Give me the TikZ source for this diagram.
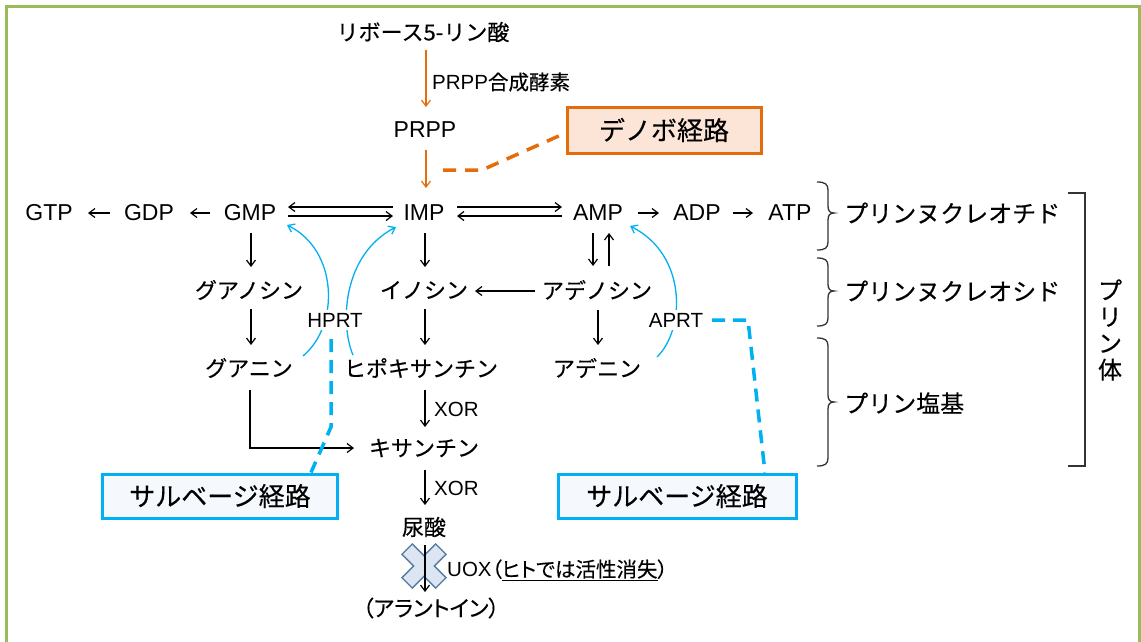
\documentclass[tikz,border=0pt]{standalone}
\usepackage{fontspec}
\setmainfont{Liberation Sans}
\newfontfamily\jp[FakeBold=0.3]{Noto Sans CJK JP}
\newfontfamily\jpp[RawFeature=+palt,FakeBold=0.3]{Noto Sans CJK JP}
\usetikzlibrary{arrows.meta,calc}
\definecolor{orangeC}{HTML}{E46C0A}
\definecolor{orangeF}{HTML}{FCE4D6}
\definecolor{cyanC}{HTML}{00B0F0}
\definecolor{cyanF}{HTML}{F5F8FC}
\definecolor{frameG}{HTML}{9BBB59}
\definecolor{xFill}{HTML}{DCE6F2}
\definecolor{xLine}{HTML}{557AA3}
\definecolor{brcC}{HTML}{333333}
\newcommand\myBrace[3]{%
\draw[brc] (817,#1) .. controls (825,#1) and (828,#1+2) .. (828,#1+8) -- (828,#2-7) .. controls (828,#2-2) and (830,#2) .. (834,#2) .. controls (830,#2) and (828,#2+2) .. (828,#2+7) -- (828,#3-8) .. controls (828,#3-2) and (825,#3) .. (817,#3);}
\tikzset{
 lat/.style={font=\fontsize{23}{27}\selectfont, inner sep=1pt},
 jpn/.style={font=\jp\fontsize{22}{26}\selectfont, inner sep=1pt},
 sm/.style={font=\fontsize{20.5}{24}\selectfont, inner sep=1pt},
 rlab/.style={font=\jp\fontsize{24}{26.5}\selectfont, inner sep=1pt},
 arr/.style={draw=black, line width=1.2pt, -{Straight Barb[length=6pt,width=9pt]}},
 oarr/.style={draw=orangeC, line width=1.2pt, -{Straight Barb[length=6pt,width=9pt]}},
 barr/.style={draw=cyanC, line width=1.3pt, -{Straight Barb[length=6pt,width=9pt]}},
 odash/.style={draw=orangeC, line width=3.5pt, dash pattern=on 13pt off 9pt},
 bdash/.style={draw=cyanC, line width=3.5pt, dash pattern=on 13pt off 8pt},
 boxO/.style={draw=orangeC, line width=3pt, fill=orangeF, minimum width=194pt, minimum height=46pt, inner sep=0pt, font=\jp\fontsize{26}{30}\selectfont},
 boxB/.style={draw=cyanC, line width=3pt, fill=cyanF, minimum height=44pt, inner sep=0pt, font=\jp\fontsize{26}{30}\selectfont},
 brc/.style={draw=brcC, line width=1.3pt},
 xbar/.style={draw=xLine, line width=3pt, fill=xFill},
}
\begin{document}
\begin{tikzpicture}[x=1pt,y=-1pt]
\useasboundingbox (0,0) rectangle (1141,641);
% frame
\draw[frameG, line width=3pt] (6,645) -- (6,6) -- (1139,6) -- (1139,645);

% nodes
\node[jpn] (rib) at (423,32) {リボース5-リン酸};
\node[lat] (prpp) at (425,130) {PRPP};
\node[sm, anchor=west] (prppe) at (431,82) {PRPP{\jp 合成酵素}};
\node[boxO] (denovo) at (664,130) {デノボ経路};

\node[lat] (GTP) at (49,213) {GTP};
\node[lat] (GDP) at (149,213) {GDP};
\node[lat] (GMP) at (250,213) {GMP};
\node[lat] (IMP) at (424,213) {IMP};
\node[lat] (AMP) at (598,213) {AMP};
\node[lat] (ADP) at (697,213) {ADP};
\node[lat] (ATP) at (790,213) {ATP};

\node[jpn] (guo) at (249,290) {グアノシン};
\node[jpn] (ino) at (424,290) {イノシン};
\node[jpn] (ado) at (597,290) {アデノシン};
\node[jpn] (gua) at (249,368) {グアニン};
\node[jpn] (hyp) at (421,368) {ヒポキサンチン};
\node[jpn] (ade) at (597,368) {アデニン};
\node[jpn] (xan) at (424,448) {キサンチン};
\node[jpn] (uric) at (424,527) {尿酸};
\node[font=\jpp\fontsize{22}{26}\selectfont, inner sep=1pt] (allan) at (431,608) {（アラントイン）};

\node[sm, anchor=west] (xor1) at (433,409) {XOR};
\node[sm, anchor=west] (xor2) at (433,488) {XOR};

% orange pathway
\draw[oarr] ($(rib)+(3,18)$) -- ($(prpp)+(1,-23)$);
\draw[oarr] ($(prpp)+(1,20)$) -- ($(IMP)+(2,-25)$);
\draw[odash] ($(prpp)+(18,40)$) -- ($(prpp)+(57,40)$) -- ($(denovo.west)+(0,3)$);

% top row arrows
\draw[arr] ($(GDP)+(-39,0)$) -- ($(GTP)+(39,0)$);
\draw[arr] ($(GMP)+(-40,0)$) -- ($(GDP)+(41,0)$);
\draw[arr] ($(IMP)+(-31,-6)$) -- ($(GMP)+(38,-6)$);
\draw[arr] ($(GMP)+(38,3)$) -- ($(IMP)+(-31,3)$);
\draw[arr] ($(IMP)+(33,-6)$) -- ($(AMP)+(-36,-6)$);
\draw[arr] ($(AMP)+(-36,3)$) -- ($(IMP)+(33,3)$);
\draw[arr] ($(AMP)+(40,0)$) -- ($(ADP)+(-38,0)$);
\draw[arr] ($(ADP)+(36,0)$) -- ($(ATP)+(-37,0)$);

% vertical arrows
\draw[arr] ($(GMP)+(1,20)$) -- ($(guo)+(2,-23)$);
\draw[arr] ($(guo)+(2,19)$) -- ($(gua)+(2,-23)$);
\draw[arr] ($(IMP)+(1,20)$) -- ($(ino)+(1,-23)$);
\draw[arr] ($(ino)+(1,19)$) -- ($(hyp)+(4,-23)$);
\draw[arr] ($(AMP)+(-5,20)$) -- ($(ado)+(-4,-24)$);
\draw[arr] ($(ado)+(12,-24)$) -- ($(AMP)+(11,20)$);
\draw[arr] ($(ado)+(-62,1)$) -- ($(ino)+(51,1)$);
\draw[arr] ($(ado)+(1,20)$) -- ($(ade)+(1,-23)$);
\draw[arr] ($(gua)+(1,22)$) |- ($(xan)+(-70,0)$);
\draw[arr] ($(hyp)+(4,22)$) -- ($(xan)+(1,-21)$);
\draw[arr] ($(xan)+(1,22)$) -- ($(uric)+(1,-22)$);

% salvage curves
\draw[barr] ($(gua)+(54,-12)$) .. controls +(37,-31) and +(51,25) .. ($(GMP)+(37,12)$);
\draw[barr] ($(hyp)+(-68,-13)$) .. controls +(-13,-30) and +(-54,28) .. ($(IMP)+(-28,14)$);
\draw[barr] ($(ade)+(60,-11)$) .. controls +(28,-27) and +(58,29) .. ($(AMP)+(32,13)$);
\node[sm, fill=white, inner sep=3pt] (HPRT) at (335,320) {HPRT};
\node[sm, fill=white, inner sep=3pt] (APRT) at (676,320) {APRT};

% salvage boxes
\node[boxB, minimum width=235pt] (salvL) at (220,496) {サルベージ経路};
\node[boxB, minimum width=238pt] (salvR) at (677,496) {サルベージ経路};
\draw[bdash] ($(HPRT)+(-4,19)$) -- ($(HPRT)+(-4,107)$) -- ($(salvL.north)+(91,0)$);
\draw[bdash] ($(APRT)+(36,0)$) -- ($(APRT)+(72,0)$) -- ($(salvR.north)+(88,0)$);

% UOX cross
\begin{scope}[shift={(424,566)}]
  \draw[xbar, rotate=45] (-23,-6.5) rectangle (23,6.5);
  \draw[xbar, rotate=-45] (-23,-6.5) rectangle (23,6.5);
  \fill[xFill, rotate=45] (-23,-6.5) rectangle (23,6.5);
  \fill[xFill, rotate=-45] (-23,-6.5) rectangle (23,6.5);
\end{scope}
\draw[arr] ($(uric)+(1,18)$) -- ($(allan)+(-6,-16)$);
\node[sm, anchor=west] (uox) at (446,570) {UOX{\jpp （\underline{ヒトでは活性消失}）}};

% brackets
\myBrace{182}{213}{250}
\myBrace{258}{291}{326}
\myBrace{338}{402}{466}
\draw[brc] (1068,193) -- (1085,193) -- (1085,466) -- (1068,466);
\node[rlab, anchor=west] (nt) at (843,213) {プリンヌクレオチド};
\node[rlab, anchor=west] (ns) at (843,291) {プリンヌクレオシド};
\node[rlab, anchor=west] (base) at (843,403) {プリン塩基};
\node[rlab, align=center] (purine) at (1110,330) {プ\\リ\\ン\\体};
\end{tikzpicture}
\end{document}
